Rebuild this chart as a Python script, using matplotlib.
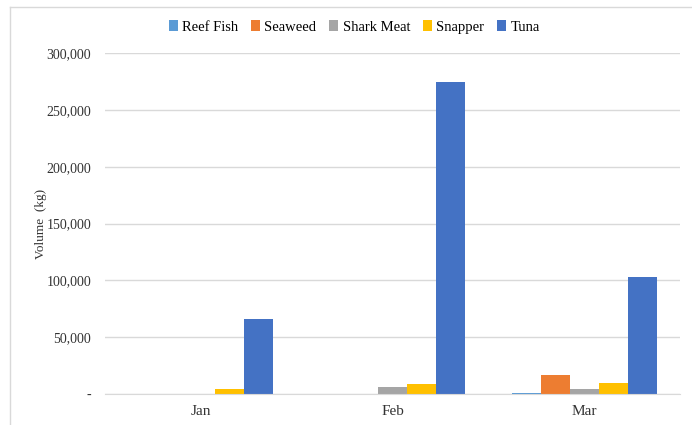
import numpy as np
import matplotlib.pyplot as plt
from matplotlib.lines import Line2D
from matplotlib.ticker import FuncFormatter

months = ["Jan", "Feb", "Mar"]
species = ["Reef Fish", "Seaweed", "Shark Meat", "Snapper", "Tuna"]
reef_fish = [0, 0, 1000]
seaweed = [0, 0, 16700]
shark_meat = [0, 6200, 4400]
snapper = [4400, 8800, 9700]
tuna = [66000, 274800, 103000]
colors = ["#5B9BD5", "#ED7D31", "#A5A5A5", "#FFC000", "#4472C4"]

plt.rcParams['font.family'] = ['Liberation Serif', 'DejaVu Serif']

fig = plt.figure(figsize=(6.92, 4.25), dpi=100)
ax = fig.add_axes([0.152, 0.073, 0.831, 0.802])

# light border of the chart box
fig.add_artist(Line2D([10/692, 10/692], [0, 1 - 7/425], color="#D9D9D9", lw=1))
fig.add_artist(Line2D([10/692, 1], [1 - 7/425, 1 - 7/425], color="#D9D9D9", lw=1))

x = np.arange(len(months))
w = 0.151
series = [reef_fish, seaweed, shark_meat, snapper, tuna]
for i, (name, vals) in enumerate(zip(species, series)):
    ax.bar(x + (i - 2) * w, vals, w, color=colors[i], label=name)

ax.set_xlim(-0.5, 2.5)
ax.set_ylim(0, 300000)
ax.set_yticks(range(0, 300001, 50000))
ax.yaxis.set_major_formatter(FuncFormatter(lambda v, p: "-" if v == 0 else f"{int(v):,}"))
ax.set_xticks(x)
ax.set_xticklabels(months, fontsize=11)
ax.grid(axis='y', color="#D9D9D9", lw=1)
ax.set_axisbelow(True)
for s in ["top", "right", "left"]:
    ax.spines[s].set_visible(False)
ax.spines["bottom"].set_color("#D9D9D9")
ax.tick_params(length=0, colors="#333333")
ax.tick_params(axis='y', pad=10, labelsize=10)
ax.tick_params(axis='x', pad=8)
ax.set_ylabel("Volume  (kg)", fontsize=9.5, color="#333333")
ax.yaxis.set_label_coords(-0.101, 0.5)

fig.legend(loc="center", bbox_to_anchor=(0.512, 1 - 27/425), ncol=5, frameon=False,
           fontsize=10.5, handlelength=0.6, handleheight=0.7, handletextpad=0.3,
           columnspacing=0.9)

plt.savefig("out.png", dpi=100)
